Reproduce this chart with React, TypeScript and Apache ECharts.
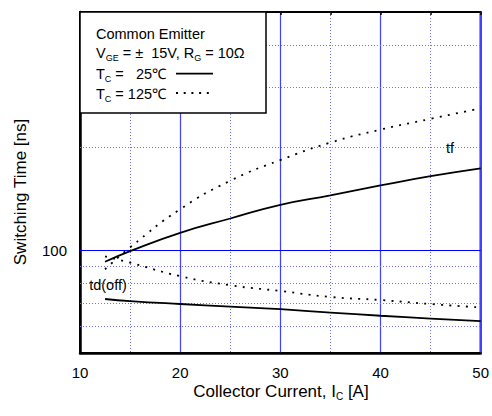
import React, { useEffect, useRef } from "react";
import * as echarts from "echarts";

const currents = [12.5, 15, 20, 25, 30, 35, 40, 45, 50];
const tf25 = [92.6, 99.5, 112.6, 124, 136, 145, 155, 165, 174];
const tf125 = [88, 102, 132, 160, 184, 207, 226, 243, 261];
const td25 = [72, 71, 69.6, 68.4, 67.2, 65.7, 64.3, 63.1, 62];
const td125 = [96, 92, 84, 79, 76, 73, 71.5, 69.6, 68];
const xTicks = [10, 20, 30, 40, 50];
const yDotGrid = [60, 70, 80, 90, 200, 300, 400];
const ySolidGrid = [100];

const FONT = "Liberation Sans, Arial, sans-serif";

export default function App() {
  const ref = useRef<HTMLDivElement>(null);
  useEffect(() => {
    const chart = echarts.init(ref.current!, null, { renderer: "svg" });
    const pts = (ys: number[]) => currents.map((x, i) => [x, ys[i]]);
    const dotted = { color: "#000", width: 1.8, type: [2, 6.3] as any, cap: "butt" };
    const solid = { color: "#000", width: 1.8, type: "solid" };
    const markLineData = [
      ...yDotGrid.map((v) => ({ yAxis: v, lineStyle: { color: "#7070ff", width: 1, type: [1, 2] } })),
      ...ySolidGrid.map((v) => ({ yAxis: v, lineStyle: { color: "#0000ff", width: 1.2, type: "solid" } })),
    ];
    const legendText = (text: string, y: number) => ({
      type: "text",
      x: 96,
      y,
      z: 101,
      style: {
        text,
        fontSize: 14.5,
        fontFamily: FONT,
        fill: "#000",
        verticalAlign: "middle",
        align: "left",
        rich: {
          sub: { fontSize: 9, fontFamily: FONT, verticalAlign: "bottom", lineHeight: 11, color: "#000" },
          n: { fontSize: 14.5, fontFamily: FONT, lineHeight: 18, color: "#000" },
        },
      },
    });
    chart.setOption({
      animation: false,
      backgroundColor: "#fff",
      grid: { left: 80, right: 10, top: 12, bottom: 63, show: true, borderColor: "#000", borderWidth: 2 },
      xAxis: [
        {
          type: "value",
          min: 10,
          max: 50,
          interval: 10,
          axisLine: { show: true, lineStyle: { color: "#000", width: 2.5 } },
          axisTick: { show: false },
          axisLabel: {
            color: "#000",
            fontSize: 15,
            fontFamily: FONT,
            margin: 12,
            formatter: (v: number) => (xTicks.includes(v) ? String(v) : ""),
          },
          splitLine: { show: true, lineStyle: { color: "#4040ff", width: 1.2 } },
          minorTick: { show: false, splitNumber: 2 },
          minorSplitLine: { show: true, lineStyle: { color: "#7070ff", width: 1, type: [1, 2] } },
        },
        {
          type: "value",
          position: "top",
          min: 10,
          max: 50,
          interval: 5,
          axisLine: { show: false },
          axisTick: { show: true, inside: true, length: 3, lineStyle: { color: "#000", width: 1.5 } },
          axisLabel: { show: false },
          splitLine: { show: false },
        },
      ],
      yAxis: {
        type: "log",
        logBase: 10,
        min: 50,
        max: 500,
        axisLine: { show: true, lineStyle: { color: "#000", width: 2.5 } },
        axisTick: { show: false },
        axisLabel: {
          color: "#000",
          fontSize: 15,
          fontFamily: FONT,
          margin: 13,
          formatter: (v: number) => (Math.abs(v - 100) < 1e-6 ? "100" : ""),
        },
        splitLine: { show: false },
      },
      series: [
        {
          type: "line",
          data: pts(tf25),
          smooth: true,
          showSymbol: false,
          lineStyle: solid,
          z: 5,
          markLine: {
            silent: true,
            symbol: "none",
            label: { show: false },
            data: markLineData,
            z: 1,
          },
        },
        { type: "line", data: pts(tf125), smooth: true, showSymbol: false, lineStyle: dotted, z: 5 },
        { type: "line", data: pts(td25), smooth: true, showSymbol: false, lineStyle: solid, z: 5 },
        { type: "line", data: pts(td125), smooth: true, showSymbol: false, lineStyle: dotted, z: 5 },
      ],
      graphic: [
        {
          type: "rect",
          z: 100,
          shape: { x: 80, y: 12, width: 186, height: 101 },
          style: { fill: "#fff", stroke: "#000", lineWidth: 1.5 },
        },
        {
          type: "text",
          x: 96,
          y: 34,
          z: 101,
          style: { text: "Common Emitter", fontSize: 14.5, fontFamily: FONT, fill: "#000", align: "left", verticalAlign: "middle" },
        },
        legendText("{n|V}{sub|GE}{n| = ±  15V, R}{sub|G}{n| = 10Ω}", 53),
        legendText("{n|T}{sub|C}{n| =   25℃}", 74),
        legendText("{n|T}{sub|C}{n| = 125℃}", 94),
        {
          type: "line",
          z: 101,
          shape: { x1: 176, y1: 73.7, x2: 213, y2: 73.7 },
          style: { stroke: "#000", lineWidth: 1.8 },
        },
        {
          type: "line",
          z: 101,
          shape: { x1: 176, y1: 93, x2: 212, y2: 93 },
          style: { stroke: "#000", lineWidth: 1.8, lineDash: [2, 5.7] },
        },
        {
          type: "text",
          x: 450,
          y: 148,
          z: 50,
          style: { text: "tf", fontSize: 14.5, fontFamily: FONT, fill: "#000", align: "center", verticalAlign: "middle" },
        },
        {
          type: "text",
          x: 108,
          y: 285,
          z: 50,
          style: { text: "td(off)", fontSize: 14.5, fontFamily: FONT, fill: "#000", align: "center", verticalAlign: "middle" },
        },
        {
          type: "text",
          x: 20,
          y: 192,
          rotation: Math.PI / 2,
          style: {
            text: "Switching Time [ns]",
            fontSize: 17,
            fontFamily: FONT,
            fill: "#000",
            align: "center",
            verticalAlign: "middle",
          },
        },
        {
          type: "text",
          x: 281,
          y: 391,
          style: {
            text: "{n|Collector Current, I}{sub|C}{n| [A]}",
            fontSize: 17,
            fontFamily: FONT,
            fill: "#000",
            align: "center",
            verticalAlign: "middle",
            rich: {
              n: { fontSize: 17, fontFamily: FONT, lineHeight: 20, color: "#000" },
              sub: { fontSize: 10, fontFamily: FONT, lineHeight: 12, verticalAlign: "bottom", color: "#000" },
            },
          },
        },
      ],
    });
    return () => chart.dispose();
  }, []);
  return <div ref={ref} style={{ width: 492, height: 416, position: "absolute", left: 0, top: 0 }} />;
}
